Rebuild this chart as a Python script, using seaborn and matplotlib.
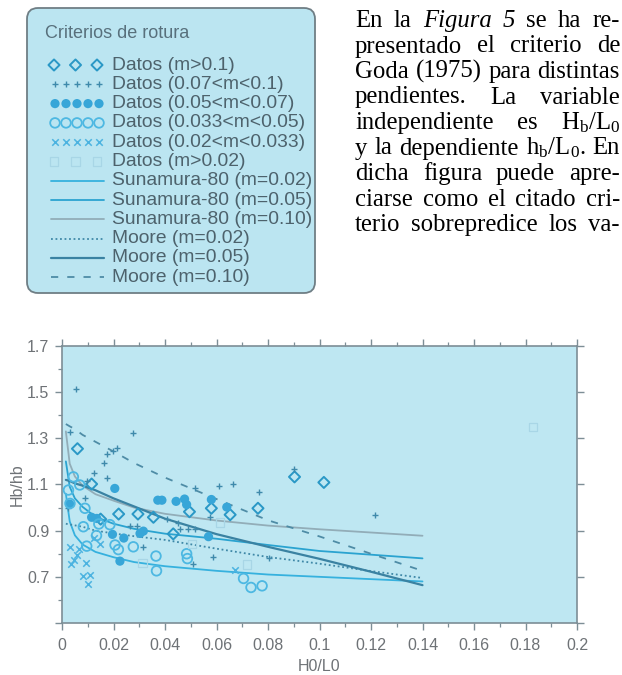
import numpy as np
import pandas as pd
import matplotlib
matplotlib.use("Agg")
import matplotlib.pyplot as plt
from matplotlib.patches import FancyBboxPatch
import seaborn as sns

# ---------------- data: breaking criteria, H0/L0 vs Hb/hb ----------------
diam_x = [0.006, 0.0115, 0.015, 0.022, 0.0295, 0.0355, 0.0432, 0.0495, 0.058, 0.0653, 0.0761, 0.0903, 0.1017]
diam_y = [1.255, 1.102, 0.95, 0.972, 0.972, 0.958, 0.886, 0.982, 0.997, 0.969, 0.997, 1.133, 1.109]

plus_x = [0.0025, 0.003, 0.0053, 0.0089, 0.0097, 0.0124, 0.0164, 0.0174, 0.0175, 0.0199, 0.0212, 0.0264,
          0.0277, 0.029, 0.0316, 0.0406, 0.045, 0.0459, 0.0488, 0.0508, 0.0517, 0.0517, 0.0573, 0.0588,
          0.0608, 0.0666, 0.0764, 0.0803, 0.0902, 0.1216]
plus_y = [1.0, 1.326, 1.512, 1.04, 1.115, 1.15, 1.194, 1.128, 1.23, 1.244, 1.256, 0.922,
          1.323, 0.922, 0.829, 0.95, 0.933, 0.908, 0.908, 0.757, 1.087, 0.908, 0.958, 0.786,
          1.094, 1.104, 1.068, 0.78, 1.165, 0.970]

fill_x = [0.003, 0.0115, 0.0135, 0.0196, 0.0205, 0.0225, 0.024, 0.0303, 0.0316, 0.0372, 0.0388, 0.0443,
          0.0476, 0.0484, 0.0569, 0.058, 0.064]
fill_y = [1.015, 0.958, 0.953, 0.884, 1.083, 0.768, 0.868, 0.888, 0.898, 1.032, 1.032, 1.027,
          1.037, 1.013, 0.874, 1.035, 1.002]

open_x = [0.0025, 0.0031, 0.0044, 0.0069, 0.0083, 0.0089, 0.0096, 0.0134, 0.0143, 0.0186, 0.0206, 0.0219,
          0.0277, 0.0365, 0.0367, 0.0484, 0.0487, 0.0705, 0.0734, 0.0777]
open_y = [1.076, 1.018, 1.133, 1.098, 0.917, 0.997, 0.833, 0.879, 0.929, 0.926, 0.838, 0.818,
          0.83, 0.79, 0.726, 0.8, 0.779, 0.693, 0.654, 0.661]

cross_x = [0.003, 0.0034, 0.0045, 0.0058, 0.0066, 0.0095, 0.0082, 0.0108, 0.0101, 0.0147, 0.0123, 0.0673]
cross_y = [0.829, 0.757, 0.772, 0.793, 0.819, 0.76, 0.703, 0.707, 0.671, 0.843, 0.868, 0.729]

sq_x = [0.0313, 0.0504, 0.0614, 0.0718, 0.183]
sq_y = [0.76, 0.843, 0.936, 0.754, 1.35]

curve_x = [0.0015, 0.003, 0.005, 0.008, 0.013, 0.02, 0.028, 0.04, 0.06, 0.08, 0.1, 0.12, 0.14]
sun02_y = [1.06, 0.94, 0.88, 0.84, 0.808, 0.785, 0.764, 0.746, 0.726, 0.71, 0.70, 0.69, 0.68]
sun05_y = [1.20, 1.09, 1.04, 1.003, 0.96, 0.93, 0.908, 0.887, 0.865, 0.838, 0.812, 0.796, 0.78]
sun10_y = [1.33, 1.19, 1.135, 1.095, 1.058, 1.03, 1.0, 0.973, 0.944, 0.922, 0.906, 0.892, 0.878]
moore02_y = [0.93, 0.927, 0.923, 0.917, 0.90, 0.888, 0.876, 0.86, 0.822, 0.786, 0.757, 0.725, 0.695]
moore05_y = [1.12, 1.115, 1.105, 1.095, 1.075, 1.04, 1.005, 0.952, 0.885, 0.83, 0.778, 0.722, 0.664]
moore10_y = [1.362, 1.352, 1.34, 1.315, 1.285, 1.243, 1.193, 1.13, 1.037, 0.945, 0.875, 0.80, 0.726]

xticks = [0, 0.02, 0.04, 0.06, 0.08, 0.1, 0.12, 0.14, 0.16, 0.18, 0.2]
xtick_labels = ["0", "0.02", "0.04", "0.06", "0.08", "0.1", "0.12", "0.14", "0.16", "0.18", "0.2"]
yticks = [0.5, 0.7, 0.9, 1.1, 1.3, 1.5, 1.7]
ytick_labels = ["", "0.7", "0.9", "1.1", "1.3", "1.5", "1.7"]

legend_title = "Criterios de rotura"
scatter_labels = ["Datos (m>0.1)", "Datos (0.07<m<0.1)", "Datos (0.05<m<0.07)",
                  "Datos (0.033<m<0.05)", "Datos (0.02<m<0.033)", "Datos (m>0.02)"]
line_labels = ["Sunamura-80 (m=0.02)", "Sunamura-80 (m=0.05)", "Sunamura-80 (m=0.10)",
               "Moore (m=0.02)", "Moore (m=0.05)", "Moore (m=0.10)"]

paragraph = [
    ["En", "la", "*Figura", "*5", "se", "ha", "re-"],
    ["presentado", "el", "criterio", "de"],
    ["Goda", "(1975)", "para", "distintas"],
    ["pendientes.", "La", "variable"],
    ["independiente", "es", r"H$_{\mathrm{b}}$/L$_{0}$"],
    ["y", "la", "dependiente", r"h$_{\mathrm{b}}$/L$_{0}$.", "En"],
    ["dicha", "figura", "puede", "apre-"],
    ["ciarse", "como", "el", "citado", "cri-"],
    ["terio", "sobrepredice", "los", "va-"],
]

# ---------------- styles ----------------
BG = "#bee7f2"
SPINE = "#7d8e96"
TICKTXT = "#6e7276"
scatter_styles = [
    dict(marker="D", s=32, facecolor="none", edgecolor="#2a98c6", linewidth=1.4),
    dict(marker="+", s=22, color="#3f8aab", linewidth=1.0),
    dict(marker="o", s=44, color="#37a6d8", edgecolor="none"),
    dict(marker="o", s=48, facecolor="none", edgecolor="#4db8e2", linewidth=1.3),
    dict(marker="x", s=22, color="#4cb3e0", linewidth=1.1),
    dict(marker="s", s=36, facecolor="none", edgecolor="#a8d6e6", linewidth=0.9),
]
line_styles = [
    dict(color="#36b1de", linewidth=1.3, linestyle="-"),
    dict(color="#2aa3d0", linewidth=1.3, linestyle="-"),
    dict(color="#92adb8", linewidth=1.3, linestyle="-"),
    dict(color="#3f88a7", linewidth=1.3, linestyle=(0, (1, 1.5))),
    dict(color="#3a82a2", linewidth=1.6, linestyle="-"),
    dict(color="#4e8ca6", linewidth=1.3, linestyle=(0, (4, 5))),
]

sns.set_style("ticks")
plt.rcParams["font.family"] = ["Liberation Sans", "DejaVu Sans"]
plt.rcParams["mathtext.fontset"] = "custom"
plt.rcParams["mathtext.rm"] = "Liberation Serif"
plt.rcParams["mathtext.it"] = "Liberation Serif:italic"

W, H = 622, 675
fig = plt.figure(figsize=(W / 100, H / 100), dpi=100)
fig.patch.set_facecolor("white")

# ---------------- chart ----------------
ax = fig.add_axes([62 / W, 52 / H, 515 / W, 277 / H])
ax.set_facecolor(BG)

curves = [sun02_y, sun05_y, sun10_y, moore02_y, moore05_y, moore10_y]
for ys, st in zip(curves, line_styles):
    df = pd.DataFrame({"H0/L0": curve_x, "Hb/hb": ys})
    sns.lineplot(data=df, x="H0/L0", y="Hb/hb", ax=ax, sort=False, **st)

groups = [(diam_x, diam_y), (plus_x, plus_y), (fill_x, fill_y),
          (open_x, open_y), (cross_x, cross_y), (sq_x, sq_y)]
for (xs, ys), st in zip(groups, scatter_styles):
    df = pd.DataFrame({"H0/L0": xs, "Hb/hb": ys})
    sns.scatterplot(data=df, x="H0/L0", y="Hb/hb", ax=ax, zorder=3, **st)

ax.set_xlim(0, 0.2)
ax.set_ylim(0.5, 1.7)
ax.set_xticks(xticks)
ax.set_xticklabels(xtick_labels)
ax.set_xticks(np.arange(0, 0.2001, 0.01), minor=True)
ax.set_yticks(yticks)
ax.set_yticklabels(ytick_labels)
ax.set_yticks(np.arange(0.5, 1.7001, 0.1), minor=True)
ax.tick_params(which="both", direction="out", top=True, right=True,
               labeltop=False, labelright=False, color=SPINE,
               labelcolor=TICKTXT, labelsize=11.5)
ax.tick_params(which="major", length=5, width=1.0, pad=6)
ax.tick_params(which="minor", length=3, width=0.9)
ax.tick_params(axis="y", which="minor", right=False)
ax.tick_params(axis="y", which="major", pad=4)
for sp in ax.spines.values():
    sp.set_color(SPINE)
    sp.set_linewidth(1.2)
ax.set_xlabel("H0/L0", fontsize=11.5, color=TICKTXT, labelpad=4)
ax.set_ylabel("Hb/hb", fontsize=11.5, color=TICKTXT, labelpad=2)

# ---------------- overlay in pixel units: legend box and text ----------------
ov = fig.add_axes([0, 0, 1, 1], zorder=5)
ov.set_xlim(0, W)
ov.set_ylim(H, 0)
ov.axis("off")
ov.patch.set_visible(False)

box = FancyBboxPatch((27, 8), 288, 285, boxstyle="round,pad=0,rounding_size=11",
                     facecolor="#bbe5f1", edgecolor="#6f7e85", linewidth=1.3)
ov.add_patch(box)
LEGTXT = "#4d626c"
ov.text(45, 33, legend_title, fontsize=13, color="#58707c", ha="left", va="center")

row_y = 65 + 19.3 * np.arange(12)
five = np.linspace(55, 99, 5)
three = np.linspace(54, 97, 3)
sample_x = [three, five, five, five, five, three]
for i, (lab, st, sx) in enumerate(zip(scatter_labels, scatter_styles, sample_x)):
    y = row_y[i]
    ov.scatter(sx, np.full(len(sx), y), **st)
    ov.text(112, y, lab, fontsize=13.9, color=LEGTXT, ha="left", va="center")
for j, (lab, st) in enumerate(zip(line_labels, line_styles)):
    y = row_y[6 + j]
    ov.plot([51, 104], [y, y], **st)
    ov.text(112, y, lab, fontsize=13.9, color=LEGTXT, ha="left", va="center")

# justified paragraph
renderer = fig.canvas.get_renderer()
left, right = 355, 620
for i, words in enumerate(paragraph):
    base = 27 + 25.5 * i
    objs = []
    for w in words:
        style = "italic" if w.startswith("*") else "normal"
        t = ov.text(0, base, w.lstrip("*"), fontsize=17.8, family="Liberation Serif",
                    style=style, ha="left", va="baseline", color="black")
        objs.append(t)
    widths = [t.get_window_extent(renderer).width for t in objs]
    gap = (right - left - sum(widths)) / (len(objs) - 1)
    x = left
    for t, w in zip(objs, widths):
        t.set_x(x)
        x += w + gap

fig.savefig("out.png", dpi=100, facecolor="white")
